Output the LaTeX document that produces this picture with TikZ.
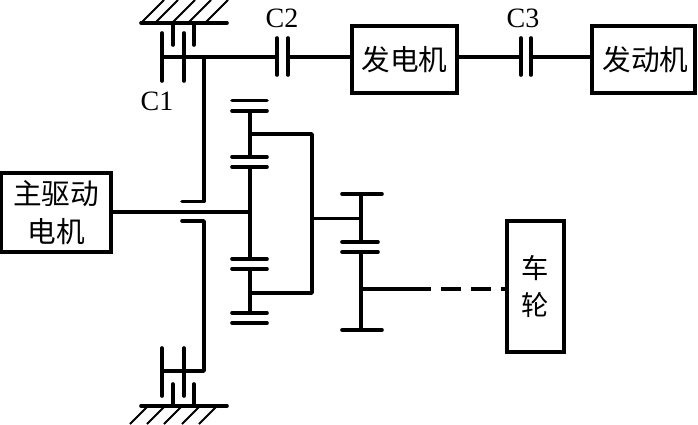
\documentclass[tikz,border=0pt]{standalone}
\usepackage{fontspec}
\setmainfont{Liberation Serif}
\newfontfamily\cjk{Noto Sans CJK SC}
\tikzset{
  thick line/.style={line width=3.6*0.75pt,line cap=round},
  shaftline/.style={line width=4.2*0.75pt},
  hatch/.style={line width=1.8*0.75pt},
  boxnode/.style={draw,line width=4.2*0.75pt,inner sep=0pt,align=center,font=\cjk\fontsize{21.5pt}{28.5pt}\selectfont},
  lab/.style={inner sep=0pt,font=\fontsize{21pt}{21pt}\selectfont}
}
\begin{document}
\begin{tikzpicture}[x=0.75pt,y=-0.75pt]
\useasboundingbox (0,0) rectangle (698,424);
% boxes
\node[boxnode,minimum width=78.75pt,minimum height=50.25pt] (gen) at (404.5,59.5) {发电机};
\node[boxnode,minimum width=77.25pt,minimum height=50.25pt] (eng) at (643.5,59.5) {\hspace{3pt}发动机};
\node[boxnode,minimum width=82.5pt,minimum height=59.25pt] (mot) at (56,212.5) {主驱动\\电机};
\node[boxnode,minimum width=42.75pt,minimum height=98.25pt,font=\cjk\fontsize{20.5pt}{28pt}\selectfont] (whl) at (535.5,286.5) {车\\轮};
% labels
\node[lab] (c1) at (157,101) {C1};
\node[lab] (c2) at (282,18) {C2};
\node[lab] (c3) at (523,18) {C3};
% reference points
\coordinate (k1) at (162,57);
\coordinate (t) at (204,57);
\coordinate (c2a) at (277,57);
\coordinate (c2b) at (288,57);
\coordinate (c3a) at (521,57);
\coordinate (c3b) at (531,57);
\coordinate (j) at (250,212);
\coordinate (p1) at (312,218);
\coordinate (p2) at (361,218);
\coordinate (w) at (361,289);
\coordinate (d) at (431,289);
\coordinate (d2) at (441,289);
% upper brake
\draw[thick line] (141,23) -- (227,23);
\foreach \xa in {141,155,172,188,205}
  \draw[hatch] (\xa,23) -- ++(23,-23);
\draw[thick line] (162,33) -- (162,81);
\draw[thick line] (184,33) -- (184,81);
\draw[thick line] (173,23) -- (173,45);
\draw[thick line] (194,23) -- (194,45);
\draw[thick line] (k1) -- (c2a);
\draw[thick line] (277,38) -- (277,75);
\draw[thick line] (288,38) -- (288,75);
\draw[thick line] (c2b) -- (gen.west |- c2b);
\draw[thick line] (gen.east |- c3a) -- (c3a);
\draw[thick line] (521,38) -- (521,75);
\draw[thick line] (531,38) -- (531,75);
\draw[thick line] (c3b) -- (eng.west |- c3b);
% hollow shafts
\draw[thick line,line join=round] (t) -- (204,201.5) -- (182,201.5);
\draw[thick line,line join=round] (182,221) -- (204,221) -- (204,371) -- (162,371);
% lower brake
\draw[thick line] (162,348) -- (162,396);
\draw[thick line] (184,348) -- (184,396);
\draw[thick line] (173,384) -- (173,406);
\draw[thick line] (194,384) -- (194,406);
\draw[thick line] (141,406) -- (227,406);
\foreach \xa in {148,165,182,200,217}
  \draw[hatch] (\xa,406) -- ++(-18,18);
% main shaft
\draw[shaftline] (mot.east |- j) -- (j);
% first planetary
\foreach \y in {100.5,111,157,167,259,269,313,323}
  \draw[thick line] (232,\y) -- (267,\y);
\draw[thick line] (250,111) -- (250,157);
\draw[thick line] (250,167) -- (250,259);
\draw[thick line] (250,269) -- (250,313);
\draw[thick line,line join=round] (250,134) -- (312,134) -- (312,293) -- (250,293);
\draw[line width=3*0.75pt] (p1) -- (p2);
% second gear
\draw[thick line] (342,194) -- (382,194);
\draw[thick line] (342,242) -- (378,242);
\draw[thick line] (342,252) -- (378,252);
\draw[thick line] (342,330) -- (382,330);
\draw[thick line] (361,194) -- (361,242);
\draw[thick line] (361,252) -- (361,330);
\draw[shaftline] (w) -- (d);
\draw[shaftline,dash pattern=on 15pt off 7.5pt] (d2) -- (whl.west |- d2);
\end{tikzpicture}
\end{document}
